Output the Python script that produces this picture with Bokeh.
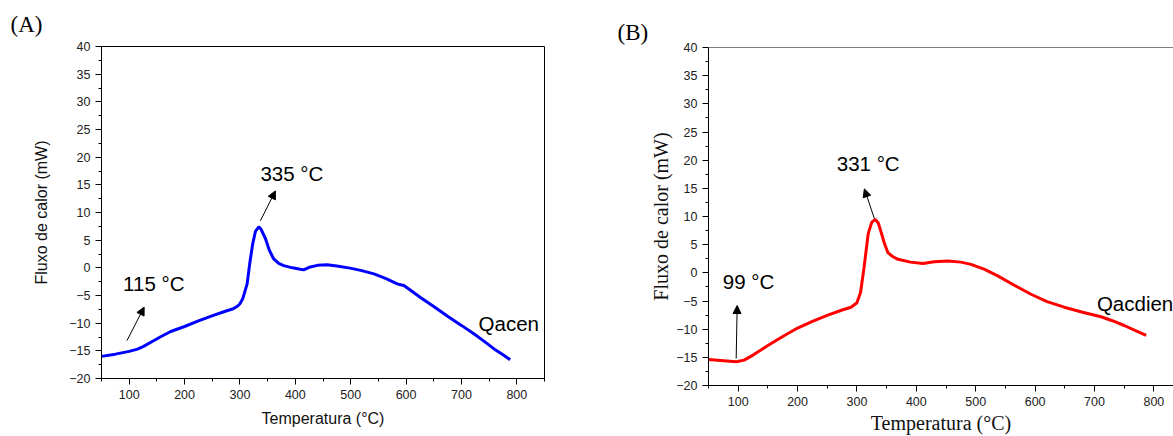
from bokeh.plotting import figure
from bokeh.layouts import row, column
from bokeh.models import Label, Arrow, NormalHead, FixedTicker, Span, Range1d
from bokeh.embed import file_html
from bokeh.resources import INLINE

# ---------------- data ----------------
temp_a = [50, 75, 100, 115, 126, 140, 156, 175, 200, 225, 252, 275, 288, 296, 300,
          305, 313, 318, 323, 328, 334, 338, 346, 353, 361, 370, 379, 395, 409, 415,
          425, 440, 457, 475, 499, 520, 542, 565, 584, 590, 596, 610, 626, 650, 675,
          700, 723, 740, 759, 775, 788]
flux_a = [-16.0, -15.6, -15.1, -14.7, -14.2, -13.4, -12.5, -11.5, -10.6, -9.6, -8.6,
          -7.8, -7.4, -6.9, -6.5, -5.6, -2.9, 1.0, 4.3, 6.6, 7.4, 7.0, 5.3, 3.2, 1.6,
          0.8, 0.4, 0.0, -0.25, -0.35, 0.1, 0.45, 0.55, 0.35, -0.05, -0.5, -1.1, -2.0,
          -2.9, -3.05, -3.2, -4.2, -5.35, -7.0, -8.75, -10.4, -11.95, -13.2, -14.65,
          -15.7, -16.6]

temp_b = [50, 75, 97, 110, 125, 150, 175, 200, 225, 251, 275, 290, 300, 306, 312,
          319, 325, 331, 336, 341, 346, 352, 360, 369, 390, 411, 430, 453, 475, 492,
          515, 537, 565, 593, 620, 649, 680, 711, 730, 750, 770, 787]
flux_b = [-15.4, -15.6, -15.8, -15.5, -14.6, -12.9, -11.3, -9.8, -8.6, -7.5, -6.6,
          -6.1, -5.3, -3.5, 1.0, 7.0, 9.0, 9.5, 8.8, 7.1, 5.3, 3.6, 2.9, 2.4, 1.9,
          1.65, 1.95, 2.1, 1.9, 1.5, 0.6, -0.55, -2.2, -3.8, -5.1, -6.1, -7.0, -7.8,
          -8.5, -9.35, -10.3, -11.1]

x_major = [100, 200, 300, 400, 500, 600, 700, 800]
x_minor = [50, 150, 250, 350, 450, 550, 650, 750, 850]
y_major = [-20, -15, -10, -5, 0, 5, 10, 15, 20, 25, 30, 35, 40]
y_minor = [-17.5, -12.5, -7.5, -2.5, 2.5, 7.5, 12.5, 17.5, 22.5, 27.5, 32.5, 37.5]

x_title = "Temperatura (°C)"
y_title = "Fluxo de calor (mW)"

SANS = "Liberation Sans"
SERIF = "Liberation Serif"
ANN = "20.5px"


def style_axes(p, title_font, title_size, ylab_standoff, xlab_standoff):
    p.xgrid.visible = False
    p.ygrid.visible = False
    p.xaxis.ticker = FixedTicker(ticks=x_major, minor_ticks=x_minor)
    p.yaxis.ticker = FixedTicker(ticks=y_major, minor_ticks=y_minor)
    for ax in (p.xaxis[0], p.yaxis[0]):
        ax.axis_line_color = "black"
        ax.axis_line_width = 1
        ax.major_tick_line_color = "black"
        ax.minor_tick_line_color = "black"
        ax.major_tick_out = 6
        ax.major_tick_in = 0
        ax.minor_tick_out = 3
        ax.minor_tick_in = 0
        ax.major_label_text_font = SANS
        ax.major_label_text_font_size = "12.5px"
        ax.major_label_text_color = "#222222"
        ax.axis_label_text_font = title_font
        ax.axis_label_text_font_size = title_size
        ax.axis_label_text_font_style = "normal"
        ax.axis_label_text_color = "#111111"
    p.xaxis.axis_label = x_title
    p.yaxis.axis_label = y_title
    p.yaxis.major_label_standoff = 5
    p.yaxis.axis_label_standoff = ylab_standoff
    p.xaxis.major_label_standoff = 5
    p.xaxis.axis_label_standoff = xlab_standoff


def panel_title(p, text, standoff):
    p.title.text = text
    p.title.align = "left"
    p.title.offset = -91
    p.title.standoff = standoff
    p.title.text_font = SERIF
    p.title.text_font_size = "23px"
    p.title.text_font_style = "normal"
    p.title.text_color = "black"


def arrow(p, x0, y0, x1, y1):
    p.add_layout(Arrow(end=NormalHead(size=8, fill_color="black", line_color="black", line_width=1),
                       x_start=x0, y_start=y0, x_end=x1, y_end=y1,
                       line_color="black", line_width=1))


def note(p, x, y, text):
    p.add_layout(Label(x=x, y=y, text=text, text_font=SANS, text_font_size=ANN,
                       text_baseline="middle", text_color="black"))


# ---------------- panel A ----------------
pA = figure(width=590, height=436, x_range=Range1d(50, 850), y_range=Range1d(-20, 40),
            output_backend="svg", toolbar_location=None,
            min_border_left=101, min_border_right=46, min_border_top=45, min_border_bottom=58)
pA.outline_line_color = "black"
pA.outline_line_width = 1
pA.outline_line_alpha = 1
style_axes(pA, SANS, "16px", 16, 8)
panel_title(pA, "(A)", 19)
pA.line(temp_a, flux_a, line_color="#0000FF", line_width=3)

note(pA, 89, -2.9, "115 °C")
note(pA, 337, 17.1, "335 °C")
note(pA, 731, -10.1, "Qacen")
arrow(pA, 96, -13.15, 127, -7.1)
arrow(pA, 337, 8.5, 364, 13.9)

# ---------------- panel B ----------------
pB = figure(width=583, height=436, x_range=Range1d(50, 833), y_range=Range1d(-20, 40),
            output_backend="svg", toolbar_location=None,
            min_border_left=118, min_border_right=0, min_border_top=47, min_border_bottom=49)
pB.outline_line_color = None
style_axes(pB, SERIF, "20px", 1, 3)
panel_title(pB, "(B)", 5)
pB.add_layout(Span(location=40, dimension="width", line_color="black", line_width=1))
pB.line(temp_b, flux_b, line_color="#FF0000", line_width=3)

note(pB, 74, -1.5, "99 °C")
note(pB, 266, 19.4, "331 °C")
note(pB, 704, -5.5, "Qacdien")
arrow(pB, 96.6, -15.2, 98.3, -5.8)
arrow(pB, 329.4, 9.6, 312.5, 14.9)

layout = row(column(pA), column(pB))
open("out.html", "w").write(file_html(layout, INLINE))
